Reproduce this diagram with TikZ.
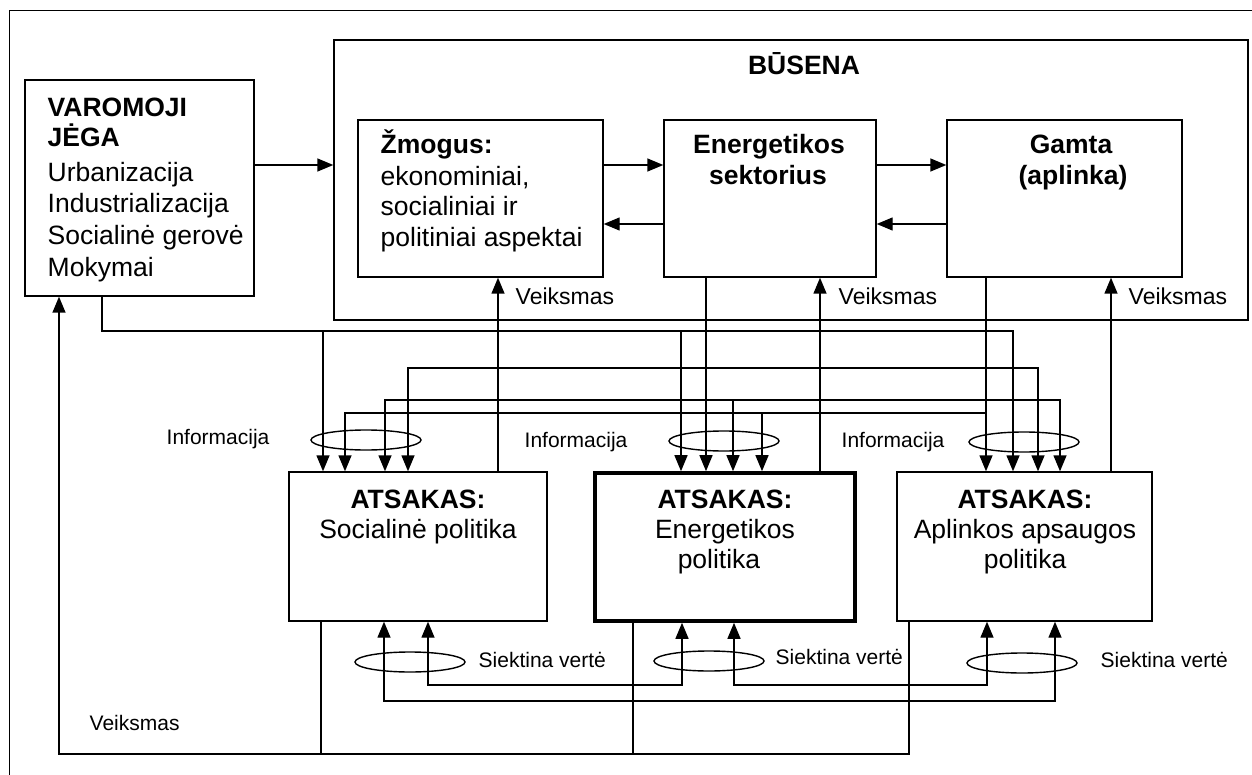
\documentclass[tikz,border=0pt]{standalone}
\usepackage{fontspec}
\setmainfont{Liberation Sans}
\usetikzlibrary{arrows.meta}
\begin{document}
\begin{tikzpicture}[x=1pt,y=-1pt,line width=1.4pt,
  box/.style={draw,inner sep=0pt,line width=1.4pt},
  thickbox/.style={draw,inner sep=0pt,line width=3.6pt},
  arr/.style={-{Triangle[length=16pt,width=13pt]}},
  arrb/.style={{Triangle[length=16pt,width=13pt]}-{Triangle[length=16pt,width=13pt]}},
  big/.style={font=\fontsize{26.5}{30}\selectfont,inner sep=0pt},
  bigb/.style={font=\fontsize{26.5}{30}\selectfont\bfseries,inner sep=0pt},
  lab/.style={font=\fontsize{21}{24}\selectfont,inner sep=0pt},
  labv/.style={font=\fontsize{23}{26}\selectfont,inner sep=0pt}]
\useasboundingbox (0,0) rectangle (1252,775);
% outer frame (partly outside the picture)
\draw[line width=1pt] (9,776) -- (9,11) -- (1253,11);

% boxes
\node[box,minimum width=229pt,minimum height=216pt] (drv) at (139.5,188) {};
\node[box,minimum width=914pt,minimum height=280pt] (bus) at (791,180) {};
\node[box,minimum width=245pt,minimum height=157pt] (zmo) at (480.5,198.5) {};
\node[box,minimum width=212pt,minimum height=157pt] (ens) at (770,198.5) {};
\node[box,minimum width=235pt,minimum height=157pt] (gam) at (1064.5,198.5) {};
\node[box,minimum width=258pt,minimum height=149pt] (soc) at (418,546.5) {};
\node[thickbox,minimum width=260pt,minimum height=148pt] (enp) at (725,547) {};
\node[box,minimum width=255pt,minimum height=149pt] (apl) at (1024.5,546.5) {};

% texts
\node[bigb,anchor=base west] (t1) at (47,117) {VAROMOJI};
\node[bigb,anchor=base west] (t2) at (47,147) {JĖGA};
\node[big,anchor=base west] (t3) at (47,182) {Urbanizacija};
\node[big,anchor=base west] (t4) at (47,213) {Industrializacija};
\node[big,anchor=base west] (t5) at (47,245) {Socialinė gerovė};
\node[big,anchor=base west] (t6) at (47,277) {Mokymai};

\node[bigb,anchor=base] (t7) at (804,75) {BŪSENA};

\node[bigb,anchor=base west] (t8) at (380,154) {Žmogus:};
\node[big,anchor=base west] (t9) at (380,186) {ekonominiai,};
\node[big,anchor=base west] (t10) at (380,216) {socialiniai ir};
\node[big,anchor=base west] (t11) at (380,247) {politiniai aspektai};

\node[bigb,anchor=base] (t12) at (769,154) {Energetikos};
\node[bigb,anchor=base] (t13) at (768,185) {sektorius};

\node[bigb,anchor=base] (t14) at (1071,154) {Gamta};
\node[bigb,anchor=base] (t15) at (1073,185) {(aplinka)};

\node[bigb,anchor=base] (t16) at (418,508) {ATSAKAS:};
\node[big,anchor=base] (t17) at (418,538) {Socialinė politika};
\node[bigb,anchor=base] (t18) at (725,508) {ATSAKAS:};
\node[big,anchor=base] (t19) at (725,538) {Energetikos};
\node[big,anchor=base] (t20) at (719,568) {politika};
\node[bigb,anchor=base] (t21) at (1025,508) {ATSAKAS:};
\node[big,anchor=base] (t22) at (1025,538) {Aplinkos apsaugos};
\node[big,anchor=base] (t23) at (1025,568) {politika};

\node[labv,anchor=base west] (v1) at (515,305) {Veiksmas};
\node[labv,anchor=base west] (v2) at (838,305) {Veiksmas};
\node[labv,anchor=base west] (v3) at (1128,305) {Veiksmas};
\node[lab,anchor=base west] (v4) at (89,730) {Veiksmas};

\node[lab,anchor=base west] (i1) at (166,444) {Informacija};
\node[lab,anchor=base west] (i2) at (524,447) {Informacija};
\node[lab,anchor=base west] (i3) at (841,447) {Informacija};

\node[lab,anchor=base west] (s1) at (478,667) {Siektina vertė};
\node[lab,anchor=base west] (s2) at (775,664) {Siektina vertė};
\node[lab,anchor=base west] (s3) at (1100,667) {Siektina vertė};

% state arrows
\draw[arr] (drv.east |- 0,165) -- (bus.west |- 0,165);
\draw[arr] (zmo.east |- 0,165) -- (ens.west |- 0,165);
\draw[arr] (ens.west |- 0,224) -- (zmo.east |- 0,224);
\draw[arr] (ens.east |- 0,165) -- (gam.west |- 0,165);
\draw[arr] (gam.west |- 0,224) -- (ens.east |- 0,224);

% actions up
\draw[arr] (soc.north -| 498,0) -- (zmo.south -| 498,0);
\draw[arr] (enp.north -| 820,0) -- (ens.south -| 820,0);
\draw[arr] (apl.north -| 1111,0) -- (gam.south -| 1111,0);

% information down
\draw[arr] (ens.south -| 706,0) -- (enp.north -| 706,0);
\draw[arr] (gam.south -| 986,0) -- (apl.north -| 986,0);

\coordinate (dc) at (102,331);
\draw[arr] (drv.south -| dc) |- (1013,331) -- (apl.north -| 1013,0);
\draw[arr] (323,331) -- (soc.north -| 323,0);
\draw[arr] (681,331) -- (enp.north -| 681,0);

\coordinate (ec) at (706,368);
\draw[arr] (ec) -| (soc.north -| 408,0);
\draw[arr] (ec) -| (apl.north -| 1038,0);

\coordinate (hc) at (733,400);
\draw[arr] (hc) -| (soc.north -| 385,0);
\draw[arr] (hc) -- (enp.north -| hc);
\draw[arr] (hc) -| (apl.north -| 1060,0);

\coordinate (gc) at (986,413);
\draw[arr] (gc) -| (soc.north -| 345,0);
\draw[arr] (762,413) -- (enp.north -| 762,0);

% ellipses
\draw (366,440) ellipse [x radius=55pt,y radius=10pt];
\draw (724,441) ellipse [x radius=55pt,y radius=10pt];
\draw (1024,442) ellipse [x radius=55pt,y radius=10pt];
\draw (410,662) ellipse [x radius=55pt,y radius=10pt];
\draw (709,661) ellipse [x radius=55pt,y radius=10pt];
\draw (1022,663) ellipse [x radius=55pt,y radius=10pt];

% target values
\draw[arrb] (soc.south -| 428,0) |- (682,685) -- (enp.south -| 682,0);
\draw[arrb] (enp.south -| 734,0) |- (987,685) -- (apl.south -| 987,0);
\draw[arrb] (soc.south -| 384,0) |- (1055,701) -- (apl.south -| 1055,0);

% action feedback
\coordinate (fb) at (59,754);
\draw[arr] (apl.south -| 909,0) |- (fb) -- (drv.south -| fb);
\draw (soc.south -| 321,0) -- (321,754);
\draw (enp.south -| 633,0) -- (633,754);
\end{tikzpicture}
\end{document}
